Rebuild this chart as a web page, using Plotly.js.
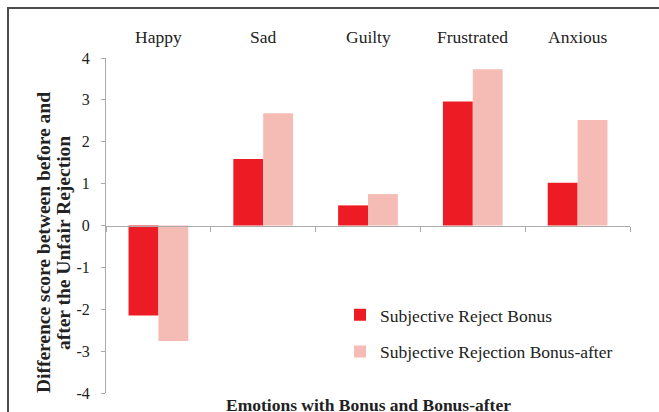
<!DOCTYPE html>
<html>
<head>
<meta charset="utf-8">
<script src="https://cdn.plot.ly/plotly-3.0.1.min.js"></script>
<style>
  html, body { margin: 0; padding: 0; background: #fff; }
  #wrap { position: relative; width: 659px; height: 412px; overflow: hidden; }
  #chart { position: absolute; left: 0; top: 0; width: 659px; height: 412px; }
  #frame { position: absolute; left: 7px; top: 7px; width: 720px; height: 520px;
           border: 2px solid #4d4d4d; pointer-events: none; }
</style>
</head>
<body>
<div id="wrap">
  <div id="chart"></div>
  <div id="frame"></div>
</div>
<script>
const categories = ["Happy", "Sad", "Guilty", "Frustrated", "Anxious"];
const seriesNames = ["Subjective Reject Bonus", "Subjective Rejection Bonus-after"];
const rejectBonus = [-2.15, 1.59, 0.48, 2.96, 1.02];
const rejectionBonusAfter = [-2.76, 2.68, 0.75, 3.73, 2.52];
const yTickValues = [-4, -3, -2, -1, 0, 1, 2, 3, 4];
const yTickLabels = ["-4", "-3", "-2", "-1", "0", "1", "2", "3", "4"];
const xTitle = "Emotions with Bonus and Bonus-after";
const yTitleLines = ["Difference score between before and", "after the Unfair Rejection"];

const serif = "Liberation Serif";

const traces = [
  { type: "bar", name: seriesNames[0], x: categories, y: rejectBonus,
    marker: { color: "#ed1c24" }, legendgroup: "a" },
  { type: "bar", name: seriesNames[1], x: categories, y: rejectionBonusAfter,
    marker: { color: "#f5bcb6" }, legendgroup: "b" }
];

const catAnnotations = categories.map(c => ({
  x: c, xref: "x", y: 1, yref: "paper", yshift: 21,
  text: c, showarrow: false, xanchor: "center", yanchor: "middle",
  font: { family: serif, size: 17.5, color: "#222" }
}));

const yTitleAnnotations = yTitleLines.map((t, i) => ({
  x: 0, xref: "paper", xshift: -63 + i * 20, y: 0.4475, yref: "paper",
  text: "<b>" + t + "</b>", textangle: -90, showarrow: false,
  xanchor: "center", yanchor: "middle",
  font: { family: serif, size: 19.5, color: "#222" }
}));

const layout = {
  width: 659, height: 412,
  margin: { l: 106, r: 29, t: 58, b: 19 },
  paper_bgcolor: "#fff", plot_bgcolor: "#fff",
  font: { family: serif, color: "#222" },
  barmode: "group", bargap: 0.43, bargroupgap: 0,
  showlegend: true,
  legend: {
    x: 0.4466, y: 0.287, xanchor: "left", yanchor: "top",
    font: { family: serif, size: 17.5, color: "#222" },
    traceorder: "grouped", tracegroupgap: 11,
    bgcolor: "rgba(0,0,0,0)"
  },
  xaxis: {
    type: "category", categoryorder: "array", categoryarray: categories,
    anchor: "free", position: 0.5,
    showline: true, linecolor: "#ababab", linewidth: 1,
    ticks: "outside", tickson: "boundaries", ticklen: 5, tickcolor: "#ababab",
    showticklabels: false, showgrid: false, zeroline: false, fixedrange: true
  },
  yaxis: {
    range: [-4, 4], tickmode: "array", tickvals: yTickValues, ticktext: yTickLabels,
    showline: true, linecolor: "#ababab", linewidth: 1,
    ticks: "outside", ticklen: 4, tickcolor: "#ababab",
    ticklabelstandoff: 8,
    tickfont: { family: serif, size: 16, color: "#222" },
    showgrid: false, zeroline: false, fixedrange: true
  },
  annotations: catAnnotations.concat(yTitleAnnotations, [
    { x: 0.5, xref: "paper", y: 0, yref: "paper", yshift: -12,
      text: "<b>" + xTitle + "</b>", showarrow: false,
      xanchor: "center", yanchor: "middle",
      font: { family: serif, size: 17.5, color: "#222" } }
  ])
};

Plotly.newPlot("chart", traces, layout, { displayModeBar: false, staticPlot: true });
</script>
</body>
</html>
